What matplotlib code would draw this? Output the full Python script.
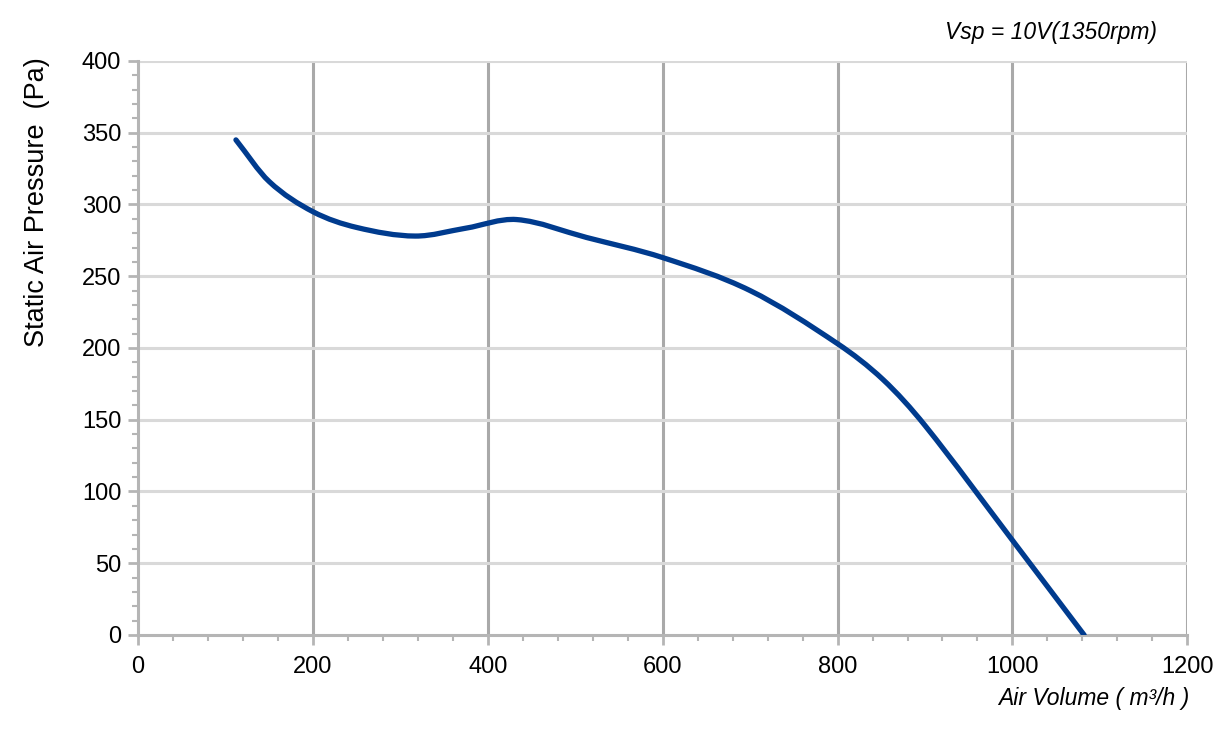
import matplotlib
matplotlib.use("Agg")
import matplotlib.pyplot as plt
from matplotlib.ticker import MultipleLocator
from matplotlib.path import Path
from matplotlib.patches import PathPatch

plt.rcParams['font.family'] = ['Liberation Sans', 'DejaVu Sans']

# fan curve
air_volume = [112, 150, 200, 250, 317, 375, 433, 513, 600, 700, 800, 852, 900, 1000, 1082]
pressure = [345, 316, 295, 284, 278, 283.5, 289.5, 277, 263, 240, 203, 178, 146, 66, 0]

x_ticks = [0, 200, 400, 600, 800, 1000, 1200]
y_ticks = [0, 50, 100, 150, 200, 250, 300, 350, 400]


def smooth_path(xs, ys):
    # cubic hermite through the read points, drawn as bezier segments
    n = len(xs)
    slopes = []
    for i in range(n):
        a = max(i - 1, 0)
        b = min(i + 1, n - 1)
        slopes.append((ys[b] - ys[a]) / (xs[b] - xs[a]))
    verts = [(xs[0], ys[0])]
    codes = [Path.MOVETO]
    for i in range(n - 1):
        h = xs[i + 1] - xs[i]
        verts.append((xs[i] + h / 3, ys[i] + slopes[i] * h / 3))
        verts.append((xs[i + 1] - h / 3, ys[i + 1] - slopes[i + 1] * h / 3))
        verts.append((xs[i + 1], ys[i + 1]))
        codes += [Path.CURVE4] * 3
    return Path(verts, codes)


fig = plt.figure(figsize=(12.3, 7.33), dpi=100)
ax = fig.add_axes([0.1122, 0.1337, 0.8531, 0.7831])

ax.set_xlim(0, 1200)
ax.set_ylim(0, 400)
ax.set_xticks(x_ticks)
ax.set_yticks(y_ticks)
ax.xaxis.set_minor_locator(MultipleLocator(40))
ax.yaxis.set_minor_locator(MultipleLocator(10))

# grid: dark vertical, light horizontal
for xv in x_ticks[1:]:
    ax.axvline(xv, color='#a9a9a9', lw=2.2, zorder=1)
for yv in y_ticks[1:]:
    ax.axhline(yv, color='#d9d9d9', lw=2.2, zorder=1)

curve = PathPatch(smooth_path(air_volume, pressure), facecolor='none',
                  edgecolor='#003b8e', lw=3.8, capstyle='round',
                  joinstyle='round', zorder=3)
ax.add_patch(curve)

for s in ['top', 'right']:
    ax.spines[s].set_visible(False)
for s in ['left', 'bottom']:
    ax.spines[s].set_color('#b5b5b5')
    ax.spines[s].set_linewidth(2.2)

ax.tick_params(which='major', direction='out', length=7, width=2, color='#b5b5b5',
               labelsize=17, labelcolor='black')
ax.tick_params(which='minor', direction='out', length=4.5, width=1.5, color='#b5b5b5')
ax.tick_params(axis='x', pad=8)
ax.tick_params(axis='y', pad=5)

ax.set_ylabel('Static Air Pressure  (Pa)', fontsize=19.5)
ax.yaxis.set_label_coords(-0.084, 0.754)
fig.text(0.967, 0.047, 'Air Volume ( m³/h )', fontsize=16.5, style='italic',
         ha='right', va='center')
fig.text(0.941, 0.956, 'Vsp = 10V(1350rpm)', fontsize=16.5, style='italic',
         ha='right', va='center')

fig.savefig('out.png', dpi=100)
